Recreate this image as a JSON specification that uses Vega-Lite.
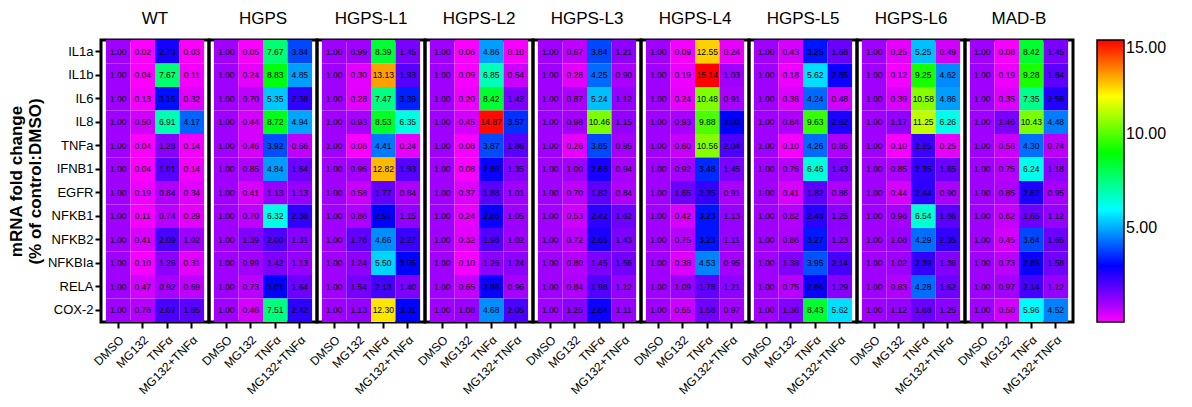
{
"$schema": "https://vega.github.io/schema/vega-lite/v6.json",
"background": "white",
"padding": {"left": 7, "top": 10, "right": 5, "bottom": 5},
"bounds": "flush",
"data": {"values": [
{"line":"WT","gene":"IL1a","trt":"DMSO","v":1.00},{"line":"WT","gene":"IL1a","trt":"MG132","v":0.02},{"line":"WT","gene":"IL1a","trt":"TNFα","v":2.73},{"line":"WT","gene":"IL1a","trt":"MG132+TNFα","v":0.03},
{"line":"WT","gene":"IL1b","trt":"DMSO","v":1.00},{"line":"WT","gene":"IL1b","trt":"MG132","v":0.04},{"line":"WT","gene":"IL1b","trt":"TNFα","v":7.67},{"line":"WT","gene":"IL1b","trt":"MG132+TNFα","v":0.11},
{"line":"WT","gene":"IL6","trt":"DMSO","v":1.00},{"line":"WT","gene":"IL6","trt":"MG132","v":0.13},{"line":"WT","gene":"IL6","trt":"TNFα","v":3.16},{"line":"WT","gene":"IL6","trt":"MG132+TNFα","v":0.32},
{"line":"WT","gene":"IL8","trt":"DMSO","v":1.00},{"line":"WT","gene":"IL8","trt":"MG132","v":0.50},{"line":"WT","gene":"IL8","trt":"TNFα","v":6.91},{"line":"WT","gene":"IL8","trt":"MG132+TNFα","v":4.17},
{"line":"WT","gene":"TNFa","trt":"DMSO","v":1.00},{"line":"WT","gene":"TNFa","trt":"MG132","v":0.04},{"line":"WT","gene":"TNFa","trt":"TNFα","v":1.28},{"line":"WT","gene":"TNFa","trt":"MG132+TNFα","v":0.14},
{"line":"WT","gene":"IFNB1","trt":"DMSO","v":1.00},{"line":"WT","gene":"IFNB1","trt":"MG132","v":0.04},{"line":"WT","gene":"IFNB1","trt":"TNFα","v":1.91},{"line":"WT","gene":"IFNB1","trt":"MG132+TNFα","v":0.14},
{"line":"WT","gene":"EGFR","trt":"DMSO","v":1.00},{"line":"WT","gene":"EGFR","trt":"MG132","v":0.19},{"line":"WT","gene":"EGFR","trt":"TNFα","v":0.84},{"line":"WT","gene":"EGFR","trt":"MG132+TNFα","v":0.34},
{"line":"WT","gene":"NFKB1","trt":"DMSO","v":1.00},{"line":"WT","gene":"NFKB1","trt":"MG132","v":0.11},{"line":"WT","gene":"NFKB1","trt":"TNFα","v":0.74},{"line":"WT","gene":"NFKB1","trt":"MG132+TNFα","v":0.29},
{"line":"WT","gene":"NFKB2","trt":"DMSO","v":1.00},{"line":"WT","gene":"NFKB2","trt":"MG132","v":0.41},{"line":"WT","gene":"NFKB2","trt":"TNFα","v":2.09},{"line":"WT","gene":"NFKB2","trt":"MG132+TNFα","v":1.02},
{"line":"WT","gene":"NFKBIa","trt":"DMSO","v":1.00},{"line":"WT","gene":"NFKBIa","trt":"MG132","v":0.10},{"line":"WT","gene":"NFKBIa","trt":"TNFα","v":1.26},{"line":"WT","gene":"NFKBIa","trt":"MG132+TNFα","v":0.31},
{"line":"WT","gene":"RELA","trt":"DMSO","v":1.00},{"line":"WT","gene":"RELA","trt":"MG132","v":0.47},{"line":"WT","gene":"RELA","trt":"TNFα","v":0.92},{"line":"WT","gene":"RELA","trt":"MG132+TNFα","v":0.69},
{"line":"WT","gene":"COX-2","trt":"DMSO","v":1.00},{"line":"WT","gene":"COX-2","trt":"MG132","v":0.78},{"line":"WT","gene":"COX-2","trt":"TNFα","v":2.07},{"line":"WT","gene":"COX-2","trt":"MG132+TNFα","v":1.85},

{"line":"HGPS","gene":"IL1a","trt":"DMSO","v":1.00},{"line":"HGPS","gene":"IL1a","trt":"MG132","v":0.05},{"line":"HGPS","gene":"IL1a","trt":"TNFα","v":7.67},{"line":"HGPS","gene":"IL1a","trt":"MG132+TNFα","v":3.84},
{"line":"HGPS","gene":"IL1b","trt":"DMSO","v":1.00},{"line":"HGPS","gene":"IL1b","trt":"MG132","v":0.24},{"line":"HGPS","gene":"IL1b","trt":"TNFα","v":8.83},{"line":"HGPS","gene":"IL1b","trt":"MG132+TNFα","v":4.85},
{"line":"HGPS","gene":"IL6","trt":"DMSO","v":1.00},{"line":"HGPS","gene":"IL6","trt":"MG132","v":0.70},{"line":"HGPS","gene":"IL6","trt":"TNFα","v":5.35},{"line":"HGPS","gene":"IL6","trt":"MG132+TNFα","v":2.38},
{"line":"HGPS","gene":"IL8","trt":"DMSO","v":1.00},{"line":"HGPS","gene":"IL8","trt":"MG132","v":0.44},{"line":"HGPS","gene":"IL8","trt":"TNFα","v":8.72},{"line":"HGPS","gene":"IL8","trt":"MG132+TNFα","v":4.94},
{"line":"HGPS","gene":"TNFa","trt":"DMSO","v":1.00},{"line":"HGPS","gene":"TNFa","trt":"MG132","v":0.46},{"line":"HGPS","gene":"TNFa","trt":"TNFα","v":3.92},{"line":"HGPS","gene":"TNFa","trt":"MG132+TNFα","v":0.66},
{"line":"HGPS","gene":"IFNB1","trt":"DMSO","v":1.00},{"line":"HGPS","gene":"IFNB1","trt":"MG132","v":0.85},{"line":"HGPS","gene":"IFNB1","trt":"TNFα","v":4.84},{"line":"HGPS","gene":"IFNB1","trt":"MG132+TNFα","v":1.64},
{"line":"HGPS","gene":"EGFR","trt":"DMSO","v":1.00},{"line":"HGPS","gene":"EGFR","trt":"MG132","v":0.41},{"line":"HGPS","gene":"EGFR","trt":"TNFα","v":1.13},{"line":"HGPS","gene":"EGFR","trt":"MG132+TNFα","v":1.13},
{"line":"HGPS","gene":"NFKB1","trt":"DMSO","v":1.00},{"line":"HGPS","gene":"NFKB1","trt":"MG132","v":0.70},{"line":"HGPS","gene":"NFKB1","trt":"TNFα","v":6.32},{"line":"HGPS","gene":"NFKB1","trt":"MG132+TNFα","v":2.38},
{"line":"HGPS","gene":"NFKB2","trt":"DMSO","v":1.00},{"line":"HGPS","gene":"NFKB2","trt":"MG132","v":1.39},{"line":"HGPS","gene":"NFKB2","trt":"TNFα","v":2.00},{"line":"HGPS","gene":"NFKB2","trt":"MG132+TNFα","v":1.31},
{"line":"HGPS","gene":"NFKBIa","trt":"DMSO","v":1.00},{"line":"HGPS","gene":"NFKBIa","trt":"MG132","v":0.99},{"line":"HGPS","gene":"NFKBIa","trt":"TNFα","v":1.42},{"line":"HGPS","gene":"NFKBIa","trt":"MG132+TNFα","v":1.13},
{"line":"HGPS","gene":"RELA","trt":"DMSO","v":1.00},{"line":"HGPS","gene":"RELA","trt":"MG132","v":0.73},{"line":"HGPS","gene":"RELA","trt":"TNFα","v":3.01},{"line":"HGPS","gene":"RELA","trt":"MG132+TNFα","v":1.64},
{"line":"HGPS","gene":"COX-2","trt":"DMSO","v":1.00},{"line":"HGPS","gene":"COX-2","trt":"MG132","v":0.46},{"line":"HGPS","gene":"COX-2","trt":"TNFα","v":7.51},{"line":"HGPS","gene":"COX-2","trt":"MG132+TNFα","v":2.42},

{"line":"HGPS-L1","gene":"IL1a","trt":"DMSO","v":1.00},{"line":"HGPS-L1","gene":"IL1a","trt":"MG132","v":0.99},{"line":"HGPS-L1","gene":"IL1a","trt":"TNFα","v":8.39},{"line":"HGPS-L1","gene":"IL1a","trt":"MG132+TNFα","v":1.45},
{"line":"HGPS-L1","gene":"IL1b","trt":"DMSO","v":1.00},{"line":"HGPS-L1","gene":"IL1b","trt":"MG132","v":0.30},{"line":"HGPS-L1","gene":"IL1b","trt":"TNFα","v":13.13},{"line":"HGPS-L1","gene":"IL1b","trt":"MG132+TNFα","v":1.93},
{"line":"HGPS-L1","gene":"IL6","trt":"DMSO","v":1.00},{"line":"HGPS-L1","gene":"IL6","trt":"MG132","v":0.28},{"line":"HGPS-L1","gene":"IL6","trt":"TNFα","v":7.47},{"line":"HGPS-L1","gene":"IL6","trt":"MG132+TNFα","v":3.39},
{"line":"HGPS-L1","gene":"IL8","trt":"DMSO","v":1.00},{"line":"HGPS-L1","gene":"IL8","trt":"MG132","v":0.93},{"line":"HGPS-L1","gene":"IL8","trt":"TNFα","v":8.53},{"line":"HGPS-L1","gene":"IL8","trt":"MG132+TNFα","v":6.35},
{"line":"HGPS-L1","gene":"TNFa","trt":"DMSO","v":1.00},{"line":"HGPS-L1","gene":"TNFa","trt":"MG132","v":0.06},{"line":"HGPS-L1","gene":"TNFa","trt":"TNFα","v":4.41},{"line":"HGPS-L1","gene":"TNFa","trt":"MG132+TNFα","v":0.24},
{"line":"HGPS-L1","gene":"IFNB1","trt":"DMSO","v":1.00},{"line":"HGPS-L1","gene":"IFNB1","trt":"MG132","v":0.96},{"line":"HGPS-L1","gene":"IFNB1","trt":"TNFα","v":12.82},{"line":"HGPS-L1","gene":"IFNB1","trt":"MG132+TNFα","v":1.93},
{"line":"HGPS-L1","gene":"EGFR","trt":"DMSO","v":1.00},{"line":"HGPS-L1","gene":"EGFR","trt":"MG132","v":0.58},{"line":"HGPS-L1","gene":"EGFR","trt":"TNFα","v":1.77},{"line":"HGPS-L1","gene":"EGFR","trt":"MG132+TNFα","v":0.84},
{"line":"HGPS-L1","gene":"NFKB1","trt":"DMSO","v":1.00},{"line":"HGPS-L1","gene":"NFKB1","trt":"MG132","v":0.86},{"line":"HGPS-L1","gene":"NFKB1","trt":"TNFα","v":2.97},{"line":"HGPS-L1","gene":"NFKB1","trt":"MG132+TNFα","v":1.15},
{"line":"HGPS-L1","gene":"NFKB2","trt":"DMSO","v":1.00},{"line":"HGPS-L1","gene":"NFKB2","trt":"MG132","v":1.78},{"line":"HGPS-L1","gene":"NFKB2","trt":"TNFα","v":4.66},{"line":"HGPS-L1","gene":"NFKB2","trt":"MG132+TNFα","v":2.27},
{"line":"HGPS-L1","gene":"NFKBIa","trt":"DMSO","v":1.00},{"line":"HGPS-L1","gene":"NFKBIa","trt":"MG132","v":1.24},{"line":"HGPS-L1","gene":"NFKBIa","trt":"TNFα","v":5.50},{"line":"HGPS-L1","gene":"NFKBIa","trt":"MG132+TNFα","v":3.05},
{"line":"HGPS-L1","gene":"RELA","trt":"DMSO","v":1.00},{"line":"HGPS-L1","gene":"RELA","trt":"MG132","v":1.54},{"line":"HGPS-L1","gene":"RELA","trt":"TNFα","v":2.13},{"line":"HGPS-L1","gene":"RELA","trt":"MG132+TNFα","v":1.40},
{"line":"HGPS-L1","gene":"COX-2","trt":"DMSO","v":1.00},{"line":"HGPS-L1","gene":"COX-2","trt":"MG132","v":1.13},{"line":"HGPS-L1","gene":"COX-2","trt":"TNFα","v":12.30},{"line":"HGPS-L1","gene":"COX-2","trt":"MG132+TNFα","v":3.01},

{"line":"HGPS-L2","gene":"IL1a","trt":"DMSO","v":1.00},{"line":"HGPS-L2","gene":"IL1a","trt":"MG132","v":0.06},{"line":"HGPS-L2","gene":"IL1a","trt":"TNFα","v":4.86},{"line":"HGPS-L2","gene":"IL1a","trt":"MG132+TNFα","v":0.10},
{"line":"HGPS-L2","gene":"IL1b","trt":"DMSO","v":1.00},{"line":"HGPS-L2","gene":"IL1b","trt":"MG132","v":0.09},{"line":"HGPS-L2","gene":"IL1b","trt":"TNFα","v":6.85},{"line":"HGPS-L2","gene":"IL1b","trt":"MG132+TNFα","v":0.54},
{"line":"HGPS-L2","gene":"IL6","trt":"DMSO","v":1.00},{"line":"HGPS-L2","gene":"IL6","trt":"MG132","v":0.20},{"line":"HGPS-L2","gene":"IL6","trt":"TNFα","v":8.42},{"line":"HGPS-L2","gene":"IL6","trt":"MG132+TNFα","v":1.42},
{"line":"HGPS-L2","gene":"IL8","trt":"DMSO","v":1.00},{"line":"HGPS-L2","gene":"IL8","trt":"MG132","v":0.45},{"line":"HGPS-L2","gene":"IL8","trt":"TNFα","v":14.87},{"line":"HGPS-L2","gene":"IL8","trt":"MG132+TNFα","v":3.57},
{"line":"HGPS-L2","gene":"TNFa","trt":"DMSO","v":1.00},{"line":"HGPS-L2","gene":"TNFa","trt":"MG132","v":0.08},{"line":"HGPS-L2","gene":"TNFa","trt":"TNFα","v":3.87},{"line":"HGPS-L2","gene":"TNFa","trt":"MG132+TNFα","v":1.86},
{"line":"HGPS-L2","gene":"IFNB1","trt":"DMSO","v":1.00},{"line":"HGPS-L2","gene":"IFNB1","trt":"MG132","v":0.08},{"line":"HGPS-L2","gene":"IFNB1","trt":"TNFα","v":2.86},{"line":"HGPS-L2","gene":"IFNB1","trt":"MG132+TNFα","v":1.35},
{"line":"HGPS-L2","gene":"EGFR","trt":"DMSO","v":1.00},{"line":"HGPS-L2","gene":"EGFR","trt":"MG132","v":0.37},{"line":"HGPS-L2","gene":"EGFR","trt":"TNFα","v":1.88},{"line":"HGPS-L2","gene":"EGFR","trt":"MG132+TNFα","v":1.01},
{"line":"HGPS-L2","gene":"NFKB1","trt":"DMSO","v":1.00},{"line":"HGPS-L2","gene":"NFKB1","trt":"MG132","v":0.24},{"line":"HGPS-L2","gene":"NFKB1","trt":"TNFα","v":2.86},{"line":"HGPS-L2","gene":"NFKB1","trt":"MG132+TNFα","v":1.05},
{"line":"HGPS-L2","gene":"NFKB2","trt":"DMSO","v":1.00},{"line":"HGPS-L2","gene":"NFKB2","trt":"MG132","v":0.32},{"line":"HGPS-L2","gene":"NFKB2","trt":"TNFα","v":1.98},{"line":"HGPS-L2","gene":"NFKB2","trt":"MG132+TNFα","v":1.02},
{"line":"HGPS-L2","gene":"NFKBIa","trt":"DMSO","v":1.00},{"line":"HGPS-L2","gene":"NFKBIa","trt":"MG132","v":0.10},{"line":"HGPS-L2","gene":"NFKBIa","trt":"TNFα","v":1.26},{"line":"HGPS-L2","gene":"NFKBIa","trt":"MG132+TNFα","v":1.24},
{"line":"HGPS-L2","gene":"RELA","trt":"DMSO","v":1.00},{"line":"HGPS-L2","gene":"RELA","trt":"MG132","v":0.65},{"line":"HGPS-L2","gene":"RELA","trt":"TNFα","v":2.86},{"line":"HGPS-L2","gene":"RELA","trt":"MG132+TNFα","v":0.96},
{"line":"HGPS-L2","gene":"COX-2","trt":"DMSO","v":1.00},{"line":"HGPS-L2","gene":"COX-2","trt":"MG132","v":1.08},{"line":"HGPS-L2","gene":"COX-2","trt":"TNFα","v":4.68},{"line":"HGPS-L2","gene":"COX-2","trt":"MG132+TNFα","v":2.05},

{"line":"HGPS-L3","gene":"IL1a","trt":"DMSO","v":1.00},{"line":"HGPS-L3","gene":"IL1a","trt":"MG132","v":0.67},{"line":"HGPS-L3","gene":"IL1a","trt":"TNFα","v":3.84},{"line":"HGPS-L3","gene":"IL1a","trt":"MG132+TNFα","v":1.21},
{"line":"HGPS-L3","gene":"IL1b","trt":"DMSO","v":1.00},{"line":"HGPS-L3","gene":"IL1b","trt":"MG132","v":0.28},{"line":"HGPS-L3","gene":"IL1b","trt":"TNFα","v":4.25},{"line":"HGPS-L3","gene":"IL1b","trt":"MG132+TNFα","v":0.90},
{"line":"HGPS-L3","gene":"IL6","trt":"DMSO","v":1.00},{"line":"HGPS-L3","gene":"IL6","trt":"MG132","v":0.87},{"line":"HGPS-L3","gene":"IL6","trt":"TNFα","v":5.24},{"line":"HGPS-L3","gene":"IL6","trt":"MG132+TNFα","v":1.12},
{"line":"HGPS-L3","gene":"IL8","trt":"DMSO","v":1.00},{"line":"HGPS-L3","gene":"IL8","trt":"MG132","v":0.98},{"line":"HGPS-L3","gene":"IL8","trt":"TNFα","v":10.46},{"line":"HGPS-L3","gene":"IL8","trt":"MG132+TNFα","v":1.15},
{"line":"HGPS-L3","gene":"TNFa","trt":"DMSO","v":1.00},{"line":"HGPS-L3","gene":"TNFa","trt":"MG132","v":0.26},{"line":"HGPS-L3","gene":"TNFa","trt":"TNFα","v":3.85},{"line":"HGPS-L3","gene":"TNFa","trt":"MG132+TNFα","v":0.95},
{"line":"HGPS-L3","gene":"IFNB1","trt":"DMSO","v":1.00},{"line":"HGPS-L3","gene":"IFNB1","trt":"MG132","v":1.00},{"line":"HGPS-L3","gene":"IFNB1","trt":"TNFα","v":2.68},{"line":"HGPS-L3","gene":"IFNB1","trt":"MG132+TNFα","v":0.94},
{"line":"HGPS-L3","gene":"EGFR","trt":"DMSO","v":1.00},{"line":"HGPS-L3","gene":"EGFR","trt":"MG132","v":0.70},{"line":"HGPS-L3","gene":"EGFR","trt":"TNFα","v":1.82},{"line":"HGPS-L3","gene":"EGFR","trt":"MG132+TNFα","v":0.84},
{"line":"HGPS-L3","gene":"NFKB1","trt":"DMSO","v":1.00},{"line":"HGPS-L3","gene":"NFKB1","trt":"MG132","v":0.53},{"line":"HGPS-L3","gene":"NFKB1","trt":"TNFα","v":2.42},{"line":"HGPS-L3","gene":"NFKB1","trt":"MG132+TNFα","v":1.62},
{"line":"HGPS-L3","gene":"NFKB2","trt":"DMSO","v":1.00},{"line":"HGPS-L3","gene":"NFKB2","trt":"MG132","v":0.72},{"line":"HGPS-L3","gene":"NFKB2","trt":"TNFα","v":2.66},{"line":"HGPS-L3","gene":"NFKB2","trt":"MG132+TNFα","v":1.43},
{"line":"HGPS-L3","gene":"NFKBIa","trt":"DMSO","v":1.00},{"line":"HGPS-L3","gene":"NFKBIa","trt":"MG132","v":0.80},{"line":"HGPS-L3","gene":"NFKBIa","trt":"TNFα","v":1.45},{"line":"HGPS-L3","gene":"NFKBIa","trt":"MG132+TNFα","v":1.56},
{"line":"HGPS-L3","gene":"RELA","trt":"DMSO","v":1.00},{"line":"HGPS-L3","gene":"RELA","trt":"MG132","v":0.84},{"line":"HGPS-L3","gene":"RELA","trt":"TNFα","v":1.98},{"line":"HGPS-L3","gene":"RELA","trt":"MG132+TNFα","v":1.12},
{"line":"HGPS-L3","gene":"COX-2","trt":"DMSO","v":1.00},{"line":"HGPS-L3","gene":"COX-2","trt":"MG132","v":1.25},{"line":"HGPS-L3","gene":"COX-2","trt":"TNFα","v":2.84},{"line":"HGPS-L3","gene":"COX-2","trt":"MG132+TNFα","v":1.11},

{"line":"HGPS-L4","gene":"IL1a","trt":"DMSO","v":1.00},{"line":"HGPS-L4","gene":"IL1a","trt":"MG132","v":0.09},{"line":"HGPS-L4","gene":"IL1a","trt":"TNFα","v":12.55},{"line":"HGPS-L4","gene":"IL1a","trt":"MG132+TNFα","v":0.24},
{"line":"HGPS-L4","gene":"IL1b","trt":"DMSO","v":1.00},{"line":"HGPS-L4","gene":"IL1b","trt":"MG132","v":0.19},{"line":"HGPS-L4","gene":"IL1b","trt":"TNFα","v":15.14},{"line":"HGPS-L4","gene":"IL1b","trt":"MG132+TNFα","v":1.03},
{"line":"HGPS-L4","gene":"IL6","trt":"DMSO","v":1.00},{"line":"HGPS-L4","gene":"IL6","trt":"MG132","v":0.24},{"line":"HGPS-L4","gene":"IL6","trt":"TNFα","v":10.48},{"line":"HGPS-L4","gene":"IL6","trt":"MG132+TNFα","v":0.91},
{"line":"HGPS-L4","gene":"IL8","trt":"DMSO","v":1.00},{"line":"HGPS-L4","gene":"IL8","trt":"MG132","v":0.93},{"line":"HGPS-L4","gene":"IL8","trt":"TNFα","v":9.88},{"line":"HGPS-L4","gene":"IL8","trt":"MG132+TNFα","v":3.00},
{"line":"HGPS-L4","gene":"TNFa","trt":"DMSO","v":1.00},{"line":"HGPS-L4","gene":"TNFa","trt":"MG132","v":0.60},{"line":"HGPS-L4","gene":"TNFa","trt":"TNFα","v":10.56},{"line":"HGPS-L4","gene":"TNFa","trt":"MG132+TNFα","v":2.04},
{"line":"HGPS-L4","gene":"IFNB1","trt":"DMSO","v":1.00},{"line":"HGPS-L4","gene":"IFNB1","trt":"MG132","v":0.92},{"line":"HGPS-L4","gene":"IFNB1","trt":"TNFα","v":3.48},{"line":"HGPS-L4","gene":"IFNB1","trt":"MG132+TNFα","v":1.45},
{"line":"HGPS-L4","gene":"EGFR","trt":"DMSO","v":1.00},{"line":"HGPS-L4","gene":"EGFR","trt":"MG132","v":1.65},{"line":"HGPS-L4","gene":"EGFR","trt":"TNFα","v":2.35},{"line":"HGPS-L4","gene":"EGFR","trt":"MG132+TNFα","v":0.91},
{"line":"HGPS-L4","gene":"NFKB1","trt":"DMSO","v":1.00},{"line":"HGPS-L4","gene":"NFKB1","trt":"MG132","v":0.42},{"line":"HGPS-L4","gene":"NFKB1","trt":"TNFα","v":3.23},{"line":"HGPS-L4","gene":"NFKB1","trt":"MG132+TNFα","v":1.13},
{"line":"HGPS-L4","gene":"NFKB2","trt":"DMSO","v":1.00},{"line":"HGPS-L4","gene":"NFKB2","trt":"MG132","v":0.75},{"line":"HGPS-L4","gene":"NFKB2","trt":"TNFα","v":3.23},{"line":"HGPS-L4","gene":"NFKB2","trt":"MG132+TNFα","v":1.11},
{"line":"HGPS-L4","gene":"NFKBIa","trt":"DMSO","v":1.00},{"line":"HGPS-L4","gene":"NFKBIa","trt":"MG132","v":0.38},{"line":"HGPS-L4","gene":"NFKBIa","trt":"TNFα","v":4.53},{"line":"HGPS-L4","gene":"NFKBIa","trt":"MG132+TNFα","v":0.95},
{"line":"HGPS-L4","gene":"RELA","trt":"DMSO","v":1.00},{"line":"HGPS-L4","gene":"RELA","trt":"MG132","v":1.09},{"line":"HGPS-L4","gene":"RELA","trt":"TNFα","v":1.78},{"line":"HGPS-L4","gene":"RELA","trt":"MG132+TNFα","v":1.21},
{"line":"HGPS-L4","gene":"COX-2","trt":"DMSO","v":1.00},{"line":"HGPS-L4","gene":"COX-2","trt":"MG132","v":0.55},{"line":"HGPS-L4","gene":"COX-2","trt":"TNFα","v":1.58},{"line":"HGPS-L4","gene":"COX-2","trt":"MG132+TNFα","v":0.97},

{"line":"HGPS-L5","gene":"IL1a","trt":"DMSO","v":1.00},{"line":"HGPS-L5","gene":"IL1a","trt":"MG132","v":0.43},{"line":"HGPS-L5","gene":"IL1a","trt":"TNFα","v":3.25},{"line":"HGPS-L5","gene":"IL1a","trt":"MG132+TNFα","v":1.68},
{"line":"HGPS-L5","gene":"IL1b","trt":"DMSO","v":1.00},{"line":"HGPS-L5","gene":"IL1b","trt":"MG132","v":0.18},{"line":"HGPS-L5","gene":"IL1b","trt":"TNFα","v":5.62},{"line":"HGPS-L5","gene":"IL1b","trt":"MG132+TNFα","v":2.85},
{"line":"HGPS-L5","gene":"IL6","trt":"DMSO","v":1.00},{"line":"HGPS-L5","gene":"IL6","trt":"MG132","v":0.36},{"line":"HGPS-L5","gene":"IL6","trt":"TNFα","v":4.24},{"line":"HGPS-L5","gene":"IL6","trt":"MG132+TNFα","v":0.48},
{"line":"HGPS-L5","gene":"IL8","trt":"DMSO","v":1.00},{"line":"HGPS-L5","gene":"IL8","trt":"MG132","v":0.84},{"line":"HGPS-L5","gene":"IL8","trt":"TNFα","v":9.63},{"line":"HGPS-L5","gene":"IL8","trt":"MG132+TNFα","v":2.62},
{"line":"HGPS-L5","gene":"TNFa","trt":"DMSO","v":1.00},{"line":"HGPS-L5","gene":"TNFa","trt":"MG132","v":0.10},{"line":"HGPS-L5","gene":"TNFa","trt":"TNFα","v":4.26},{"line":"HGPS-L5","gene":"TNFa","trt":"MG132+TNFα","v":0.85},
{"line":"HGPS-L5","gene":"IFNB1","trt":"DMSO","v":1.00},{"line":"HGPS-L5","gene":"IFNB1","trt":"MG132","v":0.76},{"line":"HGPS-L5","gene":"IFNB1","trt":"TNFα","v":6.46},{"line":"HGPS-L5","gene":"IFNB1","trt":"MG132+TNFα","v":1.43},
{"line":"HGPS-L5","gene":"EGFR","trt":"DMSO","v":1.00},{"line":"HGPS-L5","gene":"EGFR","trt":"MG132","v":0.41},{"line":"HGPS-L5","gene":"EGFR","trt":"TNFα","v":1.82},{"line":"HGPS-L5","gene":"EGFR","trt":"MG132+TNFα","v":0.86},
{"line":"HGPS-L5","gene":"NFKB1","trt":"DMSO","v":1.00},{"line":"HGPS-L5","gene":"NFKB1","trt":"MG132","v":0.82},{"line":"HGPS-L5","gene":"NFKB1","trt":"TNFα","v":2.48},{"line":"HGPS-L5","gene":"NFKB1","trt":"MG132+TNFα","v":1.25},
{"line":"HGPS-L5","gene":"NFKB2","trt":"DMSO","v":1.00},{"line":"HGPS-L5","gene":"NFKB2","trt":"MG132","v":0.86},{"line":"HGPS-L5","gene":"NFKB2","trt":"TNFα","v":3.27},{"line":"HGPS-L5","gene":"NFKB2","trt":"MG132+TNFα","v":1.23},
{"line":"HGPS-L5","gene":"NFKBIa","trt":"DMSO","v":1.00},{"line":"HGPS-L5","gene":"NFKBIa","trt":"MG132","v":1.38},{"line":"HGPS-L5","gene":"NFKBIa","trt":"TNFα","v":3.95},{"line":"HGPS-L5","gene":"NFKBIa","trt":"MG132+TNFα","v":2.14},
{"line":"HGPS-L5","gene":"RELA","trt":"DMSO","v":1.00},{"line":"HGPS-L5","gene":"RELA","trt":"MG132","v":0.75},{"line":"HGPS-L5","gene":"RELA","trt":"TNFα","v":2.86},{"line":"HGPS-L5","gene":"RELA","trt":"MG132+TNFα","v":1.29},
{"line":"HGPS-L5","gene":"COX-2","trt":"DMSO","v":1.00},{"line":"HGPS-L5","gene":"COX-2","trt":"MG132","v":1.36},{"line":"HGPS-L5","gene":"COX-2","trt":"TNFα","v":8.43},{"line":"HGPS-L5","gene":"COX-2","trt":"MG132+TNFα","v":5.62},

{"line":"HGPS-L6","gene":"IL1a","trt":"DMSO","v":1.00},{"line":"HGPS-L6","gene":"IL1a","trt":"MG132","v":0.25},{"line":"HGPS-L6","gene":"IL1a","trt":"TNFα","v":5.25},{"line":"HGPS-L6","gene":"IL1a","trt":"MG132+TNFα","v":0.49},
{"line":"HGPS-L6","gene":"IL1b","trt":"DMSO","v":1.00},{"line":"HGPS-L6","gene":"IL1b","trt":"MG132","v":0.12},{"line":"HGPS-L6","gene":"IL1b","trt":"TNFα","v":9.25},{"line":"HGPS-L6","gene":"IL1b","trt":"MG132+TNFα","v":4.62},
{"line":"HGPS-L6","gene":"IL6","trt":"DMSO","v":1.00},{"line":"HGPS-L6","gene":"IL6","trt":"MG132","v":0.39},{"line":"HGPS-L6","gene":"IL6","trt":"TNFα","v":10.58},{"line":"HGPS-L6","gene":"IL6","trt":"MG132+TNFα","v":4.86},
{"line":"HGPS-L6","gene":"IL8","trt":"DMSO","v":1.00},{"line":"HGPS-L6","gene":"IL8","trt":"MG132","v":1.17},{"line":"HGPS-L6","gene":"IL8","trt":"TNFα","v":11.25},{"line":"HGPS-L6","gene":"IL8","trt":"MG132+TNFα","v":6.26},
{"line":"HGPS-L6","gene":"TNFa","trt":"DMSO","v":1.00},{"line":"HGPS-L6","gene":"TNFa","trt":"MG132","v":0.10},{"line":"HGPS-L6","gene":"TNFa","trt":"TNFα","v":2.25},{"line":"HGPS-L6","gene":"TNFa","trt":"MG132+TNFα","v":0.25},
{"line":"HGPS-L6","gene":"IFNB1","trt":"DMSO","v":1.00},{"line":"HGPS-L6","gene":"IFNB1","trt":"MG132","v":0.85},{"line":"HGPS-L6","gene":"IFNB1","trt":"TNFα","v":2.35},{"line":"HGPS-L6","gene":"IFNB1","trt":"MG132+TNFα","v":1.65},
{"line":"HGPS-L6","gene":"EGFR","trt":"DMSO","v":1.00},{"line":"HGPS-L6","gene":"EGFR","trt":"MG132","v":0.44},{"line":"HGPS-L6","gene":"EGFR","trt":"TNFα","v":2.44},{"line":"HGPS-L6","gene":"EGFR","trt":"MG132+TNFα","v":0.90},
{"line":"HGPS-L6","gene":"NFKB1","trt":"DMSO","v":1.00},{"line":"HGPS-L6","gene":"NFKB1","trt":"MG132","v":0.96},{"line":"HGPS-L6","gene":"NFKB1","trt":"TNFα","v":6.54},{"line":"HGPS-L6","gene":"NFKB1","trt":"MG132+TNFα","v":1.86},
{"line":"HGPS-L6","gene":"NFKB2","trt":"DMSO","v":1.00},{"line":"HGPS-L6","gene":"NFKB2","trt":"MG132","v":1.08},{"line":"HGPS-L6","gene":"NFKB2","trt":"TNFα","v":4.29},{"line":"HGPS-L6","gene":"NFKB2","trt":"MG132+TNFα","v":2.35},
{"line":"HGPS-L6","gene":"NFKBIa","trt":"DMSO","v":1.00},{"line":"HGPS-L6","gene":"NFKBIa","trt":"MG132","v":1.02},{"line":"HGPS-L6","gene":"NFKBIa","trt":"TNFα","v":2.39},{"line":"HGPS-L6","gene":"NFKBIa","trt":"MG132+TNFα","v":1.36},
{"line":"HGPS-L6","gene":"RELA","trt":"DMSO","v":1.00},{"line":"HGPS-L6","gene":"RELA","trt":"MG132","v":0.83},{"line":"HGPS-L6","gene":"RELA","trt":"TNFα","v":4.28},{"line":"HGPS-L6","gene":"RELA","trt":"MG132+TNFα","v":1.62},
{"line":"HGPS-L6","gene":"COX-2","trt":"DMSO","v":1.00},{"line":"HGPS-L6","gene":"COX-2","trt":"MG132","v":1.12},{"line":"HGPS-L6","gene":"COX-2","trt":"TNFα","v":1.68},{"line":"HGPS-L6","gene":"COX-2","trt":"MG132+TNFα","v":1.25},

{"line":"MAD-B","gene":"IL1a","trt":"DMSO","v":1.00},{"line":"MAD-B","gene":"IL1a","trt":"MG132","v":0.08},{"line":"MAD-B","gene":"IL1a","trt":"TNFα","v":8.42},{"line":"MAD-B","gene":"IL1a","trt":"MG132+TNFα","v":1.45},
{"line":"MAD-B","gene":"IL1b","trt":"DMSO","v":1.00},{"line":"MAD-B","gene":"IL1b","trt":"MG132","v":0.19},{"line":"MAD-B","gene":"IL1b","trt":"TNFα","v":9.28},{"line":"MAD-B","gene":"IL1b","trt":"MG132+TNFα","v":1.84},
{"line":"MAD-B","gene":"IL6","trt":"DMSO","v":1.00},{"line":"MAD-B","gene":"IL6","trt":"MG132","v":0.35},{"line":"MAD-B","gene":"IL6","trt":"TNFα","v":7.35},{"line":"MAD-B","gene":"IL6","trt":"MG132+TNFα","v":2.56},
{"line":"MAD-B","gene":"IL8","trt":"DMSO","v":1.00},{"line":"MAD-B","gene":"IL8","trt":"MG132","v":1.46},{"line":"MAD-B","gene":"IL8","trt":"TNFα","v":10.43},{"line":"MAD-B","gene":"IL8","trt":"MG132+TNFα","v":4.48},
{"line":"MAD-B","gene":"TNFa","trt":"DMSO","v":1.00},{"line":"MAD-B","gene":"TNFa","trt":"MG132","v":0.56},{"line":"MAD-B","gene":"TNFa","trt":"TNFα","v":4.30},{"line":"MAD-B","gene":"TNFa","trt":"MG132+TNFα","v":0.74},
{"line":"MAD-B","gene":"IFNB1","trt":"DMSO","v":1.00},{"line":"MAD-B","gene":"IFNB1","trt":"MG132","v":0.75},{"line":"MAD-B","gene":"IFNB1","trt":"TNFα","v":6.24},{"line":"MAD-B","gene":"IFNB1","trt":"MG132+TNFα","v":1.18},
{"line":"MAD-B","gene":"EGFR","trt":"DMSO","v":1.00},{"line":"MAD-B","gene":"EGFR","trt":"MG132","v":0.85},{"line":"MAD-B","gene":"EGFR","trt":"TNFα","v":2.62},{"line":"MAD-B","gene":"EGFR","trt":"MG132+TNFα","v":0.95},
{"line":"MAD-B","gene":"NFKB1","trt":"DMSO","v":1.00},{"line":"MAD-B","gene":"NFKB1","trt":"MG132","v":0.62},{"line":"MAD-B","gene":"NFKB1","trt":"TNFα","v":1.65},{"line":"MAD-B","gene":"NFKB1","trt":"MG132+TNFα","v":1.12},
{"line":"MAD-B","gene":"NFKB2","trt":"DMSO","v":1.00},{"line":"MAD-B","gene":"NFKB2","trt":"MG132","v":0.45},{"line":"MAD-B","gene":"NFKB2","trt":"TNFα","v":3.84},{"line":"MAD-B","gene":"NFKB2","trt":"MG132+TNFα","v":1.65},
{"line":"MAD-B","gene":"NFKBIa","trt":"DMSO","v":1.00},{"line":"MAD-B","gene":"NFKBIa","trt":"MG132","v":0.73},{"line":"MAD-B","gene":"NFKBIa","trt":"TNFα","v":2.85},{"line":"MAD-B","gene":"NFKBIa","trt":"MG132+TNFα","v":1.58},
{"line":"MAD-B","gene":"RELA","trt":"DMSO","v":1.00},{"line":"MAD-B","gene":"RELA","trt":"MG132","v":0.97},{"line":"MAD-B","gene":"RELA","trt":"TNFα","v":2.14},{"line":"MAD-B","gene":"RELA","trt":"MG132+TNFα","v":1.12},
{"line":"MAD-B","gene":"COX-2","trt":"DMSO","v":1.00},{"line":"MAD-B","gene":"COX-2","trt":"MG132","v":0.50},{"line":"MAD-B","gene":"COX-2","trt":"TNFα","v":5.96},{"line":"MAD-B","gene":"COX-2","trt":"MG132+TNFα","v":4.52}
]},
"facet": {"column": {"field": "line", "type": "nominal",
  "sort": ["WT","HGPS","HGPS-L1","HGPS-L2","HGPS-L3","HGPS-L4","HGPS-L5","HGPS-L6","MAD-B"],
  "header": {"title": null, "labelFontSize": 17, "labelFont": "Liberation Sans", "labelColor": "black", "labelPadding": 12}}},
"spacing": 0,
"spec": {
  "width": 108, "height": 282,
  "layer": [
    {"mark": {"type": "rect"},
     "encoding": {
       "x": {"field": "trt", "type": "nominal", "sort": ["DMSO","MG132","TNFα","MG132+TNFα"],
             "scale": {"paddingInner": 0, "paddingOuter": 0.2},
             "axis": {"title": null, "labelAngle": -45, "labelAlign": "right", "labelBaseline": "top", "labelFontSize": 12, "labelPadding": 6}},
       "y": {"field": "gene", "type": "nominal",
             "sort": ["IL1a","IL1b","IL6","IL8","TNFa","IFNB1","EGFR","NFKB1","NFKB2","NFKBIa","RELA","COX-2"],
             "scale": {"paddingInner": 0, "paddingOuter": 0},
             "axis": {"title": ["mRNA fold change", "(% of control:DMSO)"], "titleFontSize": 17, "titleFontWeight": "bold", "labelFontSize": 13, "titlePadding": 3}},
       "color": {"field": "v", "type": "quantitative",
                 "scale": {"domain": [0, 1, 3, 4.5, 6, 9, 12, 15], "range": ["#ff00ff", "#a000ff", "#0000ff", "#0080ff", "#00ffff", "#00ff00", "#ffff00", "#ff0000"], "interpolate": "rgb"},
                 "legend": {"title": null, "values": [5, 10, 15], "format": ".2f", "direction": "vertical"}}
     }},
    {"mark": {"type": "text", "fontSize": 8.5, "font": "Liberation Sans", "color": "black"},
     "encoding": {
       "x": {"field": "trt", "type": "nominal", "sort": ["DMSO","MG132","TNFα","MG132+TNFα"]},
       "y": {"field": "gene", "type": "nominal", "sort": ["IL1a","IL1b","IL6","IL8","TNFa","IFNB1","EGFR","NFKB1","NFKB2","NFKBIa","RELA","COX-2"]},
       "text": {"field": "v", "type": "quantitative", "format": ".2f"}
     }}
  ]
},
"config": {
  "font": "Liberation Sans",
  "view": {"stroke": "black", "strokeWidth": 3},
  "axis": {"domain": false, "ticks": true, "tickColor": "black", "tickWidth": 2, "tickSize": 6, "labelColor": "black", "titleColor": "black", "labelFont": "Liberation Sans", "titleFont": "Liberation Sans", "grid": false},
  "legend": {"gradientLength": 282, "gradientThickness": 27, "gradientStrokeColor": "black", "gradientStrokeWidth": 1.5, "labelFontSize": 16, "labelColor": "black", "offset": 22, "labelOffset": 8}
}
}
